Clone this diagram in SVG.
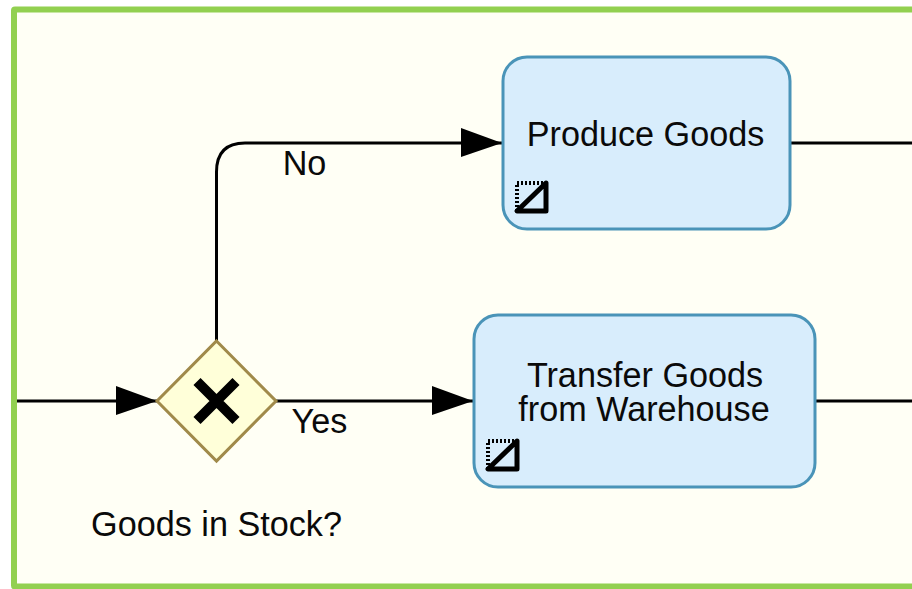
<svg xmlns="http://www.w3.org/2000/svg" width="912" height="589" viewBox="0 0 912 589">
<style>
.t{font-family:"Liberation Sans",Arial,sans-serif;font-size:34.200px;fill:#0a0a0a;text-anchor:middle}
.task{fill:#d8edfc;stroke:#4a94b8;stroke-width:3}
.flow{fill:none;stroke:#000;stroke-width:3}
.ico{fill:none;stroke:#000;stroke-width:5;stroke-linejoin:round}
</style>
<defs><marker id="arrow" markerUnits="userSpaceOnUse" markerWidth="42" markerHeight="30" refX="41" refY="15" orient="auto"><path d="M0 0L41 15L0 29Z" fill="#000"/></marker></defs>
<rect width="912" height="589" fill="#fff"/>
<g id="pool"><rect x="14" y="9.500" width="910" height="577" rx="1" fill="#fffff5" stroke="#92d050" stroke-width="6"/></g>
<g id="connectors">
<path class="flow" marker-end="url(#arrow)" d="M17 401H157"/>
<path class="flow" marker-end="url(#arrow)" d="M216.500 341V172Q216.500 143 245 143H502"/>
<path class="flow" marker-end="url(#arrow)" d="M276 401H473"/>
<path class="flow" d="M790 143H912"/>
<path class="flow" d="M816 401H912"/>
<text class="t" x="304.500" y="175">No</text>
<text class="t" x="319.500" y="433">Yes</text>
</g>
<g id="gateway">
<path d="M216.500 341L276 401L216.500 461L157 401Z" fill="#ffffd9" stroke="#a08a4a" stroke-width="3"/>
<path d="M197 381.500L236 420.500M236 381.500L197 420.500" stroke="#000" stroke-width="10" fill="none"/>
<text class="t" x="216.500" y="536">Goods in Stock?</text>
</g>
<g id="produce">
<rect class="task" x="503" y="57" width="287" height="172" rx="24"/>
<text class="t" x="645.500" y="146">Produce Goods</text>
<path class="ico" d="M517 211H546V183L517 211Z"/>
<path d="M517 211V183H546" fill="none" stroke="#000" stroke-width="4" stroke-dasharray="2 2"/>
</g>
<g id="transfer">
<rect class="task" x="474" y="315" width="341" height="172" rx="24"/>
<text class="t" x="645" y="387">Transfer Goods</text>
<text class="t" x="644" y="421">from Warehouse</text>
<path class="ico" d="M488 469H517V441L488 469Z"/>
<path d="M488 469V441H517" fill="none" stroke="#000" stroke-width="4" stroke-dasharray="2 2"/>
</g>
</svg>
